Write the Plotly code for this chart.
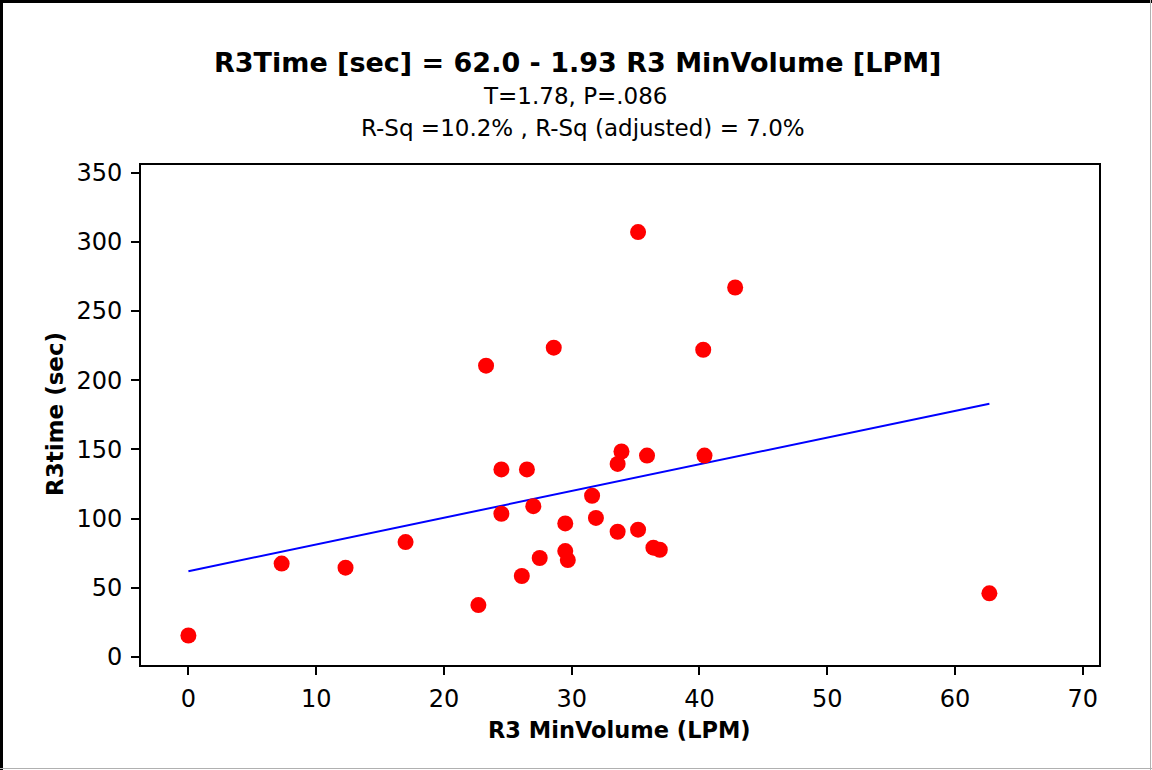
import plotly.graph_objects as go

# Data
min_volume = [0.0, 7.3, 12.3, 17.0, 22.7, 23.3, 24.5, 24.5, 26.5, 26.1,
              27.0, 27.5, 28.6, 29.5, 29.5, 29.7, 31.6, 31.9, 33.6, 33.6,
              33.9, 35.2, 35.2, 35.9, 36.4, 36.9, 40.3, 40.4, 42.8, 62.7]
r3_time = [15.5, 67.5, 64.5, 83.0, 37.5, 210.5, 135.5, 103.5, 135.5, 58.5,
           109.0, 71.5, 223.5, 96.5, 76.5, 70.0, 116.5, 100.5, 139.5, 90.5,
           148.5, 307.0, 92.0, 145.5, 79.0, 77.5, 222.0, 145.5, 267.0, 46.0]

fit_intercept = 62.0
fit_slope = 1.93

title_text = "R3Time [sec] = 62.0 - 1.93 R3 MinVolume [LPM]"
sub1_text = "T=1.78, P=.086"
sub2_text = "R-Sq =10.2% , R-Sq (adjusted) = 7.0%"
x_title = "R3 MinVolume (LPM)"
y_title = "R3time (sec)"
x_ticks = [0, 10, 20, 30, 40, 50, 60, 70]
y_ticks = [0, 50, 100, 150, 200, 250, 300, 350]

W, H = 1152, 770
L, R, T, B = 141, 53, 165, 105
PW, PH = W - L - R, H - T - B


def px(x):
    return (x - L) / PW


def py(y):
    return (H - B - y) / PH


FONT = "DejaVu Sans"

line_x = [min(min_volume), max(min_volume)]
line_y = [fit_intercept + fit_slope * v for v in line_x]

fig = go.Figure()
fig.add_trace(go.Scatter(x=line_x, y=line_y, mode="lines",
                         line=dict(color="#0000ff", width=2), hoverinfo="skip"))
fig.add_trace(go.Scatter(x=min_volume, y=r3_time, mode="markers",
                         marker=dict(color="#ff0000", size=16, line=dict(width=0))))

axis_common = dict(
    showgrid=False, zeroline=False, showline=True, linecolor="black", linewidth=2,
    ticks="outside", ticklen=8, tickwidth=2, tickcolor="black",
    tickfont=dict(family=FONT, size=24, color="black"), mirror=True,
)
fig.update_xaxes(range=[-3.71, 71.28], tickvals=x_ticks, ticklabelstandoff=3, **axis_common)
fig.update_yaxes(range=[-5.8, 355.5], tickvals=y_ticks, ticklabelstandoff=4, **axis_common)

annotations = [
    dict(text="<b>" + title_text + "</b>", x=px(577), y=py(62), font=dict(family=FONT, size=27, color="black")),
    dict(text=sub1_text, x=px(575), y=py(96), font=dict(family=FONT, size=23, color="black")),
    dict(text=sub2_text, x=px(583), y=py(128), font=dict(family=FONT, size=23, color="black")),
    dict(text="<b>" + x_title + "</b>", x=px(619), y=py(730), font=dict(family=FONT, size=22.5, color="black")),
    dict(text="<b>" + y_title + "</b>", x=px(55), y=py(414), textangle=-90, font=dict(family=FONT, size=23, color="black")),
]
for a in annotations:
    a.update(xref="paper", yref="paper", showarrow=False, xanchor="center", yanchor="middle")

shapes = [
    dict(type="line", xref="paper", yref="paper", x0=px(0), x1=px(W), y0=py(1.5), y1=py(1.5), line=dict(color="black", width=3)),
    dict(type="line", xref="paper", yref="paper", x0=px(1.5), x1=px(1.5), y0=py(0), y1=py(H), line=dict(color="black", width=3)),
    dict(type="line", xref="paper", yref="paper", x0=px(1150.5), x1=px(1150.5), y0=py(0), y1=py(H), line=dict(color="#b0b0b0", width=1)),
    dict(type="line", xref="paper", yref="paper", x0=px(0), x1=px(W), y0=py(768.5), y1=py(768.5), line=dict(color="#b0b0b0", width=1)),
]

fig.update_layout(
    width=W, height=H, margin=dict(l=L, r=R, t=T, b=B, pad=0),
    paper_bgcolor="white", plot_bgcolor="white", showlegend=False,
    annotations=annotations, shapes=shapes,
    font=dict(family=FONT, color="black"),
)

fig.write_html("out.html")
